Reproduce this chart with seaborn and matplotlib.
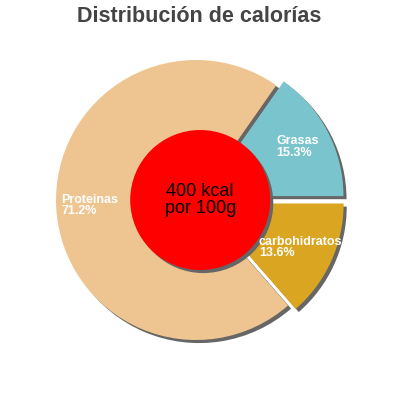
import matplotlib.pyplot as plt
import seaborn as sns

# values
nutrients = ["Grasas", "Proteinas", "carbohidratos"]
percents = [15.3, 71.2, 13.6]
slice_colors = ["#7AC5CD", "#EEC591", "#DAA520"]
explode = [0.06, 0.0, 0.06]
energy_text = "400 kcal\npor 100g"
chart_title = "Distribución de calorías"

sns.set_theme(style="white")
plt.rcParams["font.family"] = ["Liberation Sans", "DejaVu Sans"]

fig = plt.figure(figsize=(4, 4), dpi=100)
ax = fig.add_axes([0, 0, 1, 1])

shadow_off = 0.022
# gray drop shadow drawn as a shifted copy of the pie
ax.pie(percents, explode=explode, colors=["#666666"] * len(percents),
       startangle=0, center=(shadow_off, -shadow_off),
       wedgeprops=dict(linewidth=0))

slice_labels = [f"{n}\n{p:.1f}%" for n, p in zip(nutrients, percents)]
wedges, texts = ax.pie(percents, explode=explode, colors=slice_colors,
                       startangle=0, labels=slice_labels, labeldistance=0.76,
                       wedgeprops=dict(linewidth=0),
                       textprops=dict(color="white", fontsize=9, fontweight="bold"))
for t in texts:
    t.set_horizontalalignment("center")
    t.set_verticalalignment("center")
    t.set_multialignment("left")
    t.set_linespacing(0.95)

# red centre disc with its own shadow
ax.add_patch(plt.Circle((0.03 + shadow_off, -shadow_off), 0.5, color="#666666", lw=0))
ax.add_patch(plt.Circle((0.03, 0), 0.5, color="#FF0000", lw=0))
ax.text(0.03, 0, energy_text, ha="center", va="center", fontsize=13,
        color="black", linespacing=1.05)

ax.set_xlim(-1.4, 1.457)
ax.set_ylim(-1.4286, 1.4286)
ax.set_aspect("equal")
ax.axis("off")

fig.text(0.4975, 1 - 17 / 400, chart_title, ha="center", va="center",
         fontsize=15.5, fontweight="bold", color="#444444")

fig.savefig("out.png", dpi=100)
